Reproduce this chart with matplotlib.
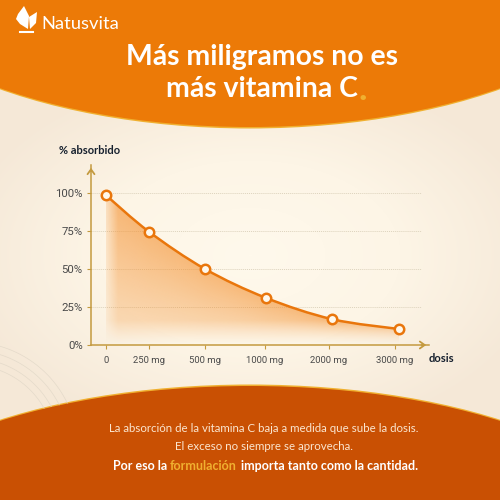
import numpy as np
import matplotlib
matplotlib.use("Agg")
import matplotlib.pyplot as plt
from matplotlib.colors import LinearSegmentedColormap
from matplotlib.patches import Ellipse, PathPatch, Polygon
from matplotlib.path import Path

# data
doses = ["0", "250 mg", "500 mg", "1000 mg", "2000 mg", "3000 mg"]
absorbed = [98.5, 74.5, 50, 31, 17, 10.5]
y_ticks = [0, 25, 50, 75, 100]
# the dose axis is not to scale, so these are places along it
tick_x = [15, 58, 114, 174, 238, 304]
point_x = [15, 58, 114, 175, 241, 308]

ORANGE = "#EC7A07"
DARK_ORANGE = "#C95003"
GOLD = "#F0B030"
AXIS = "#C49A3F"
INK = "#4A4A4A"
NAVY = "#16202E"

plt.rcParams["font.family"] = ["Lato", "DejaVu Sans"]

fig = plt.figure(figsize=(5, 5), dpi=100)

# background, in pixel coordinates
bg = fig.add_axes([0, 0, 1, 1])
bg.set_xlim(0, 500)
bg.set_ylim(500, 0)
bg.axis("off")

yy, xx = np.mgrid[0:500, 0:500]
dist = np.sqrt(((xx - 250) / 300.0) ** 2 + ((yy - 255) / 190.0) ** 2)
cream = LinearSegmentedColormap.from_list("cream", ["#FFF9EC", "#FDF5E6", "#F5E8D7"])
bg.imshow(np.clip(dist, 0, 1), cmap=cream, extent=(0, 500, 500, 0), aspect="auto", zorder=0)

# header and footer bands
bg.add_patch(Ellipse((250, -50), 800, 2 * 178.5, color=GOLD, lw=0, zorder=1))
bg.add_patch(Ellipse((250, -50), 800, 2 * 177, color=ORANGE, lw=0, zorder=2))
bg.add_patch(Ellipse((250, 545), 800, 2 * 160.5, color=GOLD, lw=0, zorder=1))
bg.add_patch(Ellipse((250, 545), 800, 2 * 159, color=DARK_ORANGE, lw=0, zorder=2))

# faint lines in the corner above the footer
for r in [85, 92, 100, 108]:
    t = np.linspace(0, np.pi / 2, 40)
    bg.plot(r * np.cos(t) - 30, 450 - r * np.sin(t), color="#E4DACA", lw=0.5, zorder=1)

# logo
bg.add_patch(Polygon([(18, 14), (24, 6), (29, 16), (28, 29), (20, 24), (16, 19)], color="white", lw=0, zorder=3))
bg.add_patch(Polygon([(29, 17), (37, 12), (36, 23), (30, 29)], color="white", lw=0, zorder=3))
bg.plot([20, 33], [32, 32], color="white", lw=1.5, zorder=3)
bg.text(41, 24, "Natusvita", color="white", fontsize=13.2, va="center", ha="left", zorder=3)

# title
bg.text(262, 57, "Más miligramos no es", color="white", fontsize=20.4, fontweight="bold", ha="center", va="center", zorder=3)
line2 = bg.text(262, 89, "más vitamina C", color="white", fontsize=20.4, fontweight="bold", ha="center", va="center", zorder=3)
box = line2.get_window_extent(fig.canvas.get_renderer())
bg.text(box.x1 + 0.5, 89, ".", color=GOLD, fontsize=26, fontweight="bold", ha="left", va="center", zorder=3)

# footer text
bg.text(264, 429, "La absorción de la vitamina C baja a medida que sube la dosis.", color="#FBE6D0", fontsize=8.3, ha="center", va="center", zorder=3)
bg.text(264, 446, "El exceso no siempre se aprovecha.", color="#FBE6D0", fontsize=8.3, ha="center", va="center", zorder=3)
bg.text(113, 466, "Por eso la", color="white", fontsize=9, fontweight="bold", ha="left", va="center", zorder=3)
bg.text(170, 466, "formulación", color=GOLD, fontsize=9, fontweight="bold", ha="left", va="center", zorder=3)
bg.text(241, 466, "importa tanto como la cantidad.", color="white", fontsize=9, fontweight="bold", ha="left", va="center", zorder=3)

# chart
ax = fig.add_axes([91 / 500, (500 - 345) / 500, 338 / 500, 180 / 500])
ax.patch.set_alpha(0)
for side in ["top", "right"]:
    ax.spines[side].set_visible(False)
for side in ["left", "bottom"]:
    ax.spines[side].set_color(AXIS)
    ax.spines[side].set_linewidth(1.1)

ax.set_xticks(tick_x)
ax.set_xticklabels(doses, family="Roboto")
ax.set_yticks(y_ticks)
ax.set_yticklabels([f"{v}%" for v in y_ticks], family="Roboto")
ax.tick_params(axis="x", colors=AXIS, labelcolor=INK, labelsize=6.8, length=3, width=0.8, pad=5)
ax.tick_params(axis="y", colors=AXIS, labelcolor=INK, labelsize=8.2, length=3, width=0.8, pad=3)

for v in y_ticks[1:]:
    ax.plot([0, 330], [v, v], color="#DDD3BD", lw=0.7, ls=(0, (1, 1)), zorder=1)

# arrow heads on both axes
ax.annotate("", xy=(0, 1), xytext=(0, 0.95), xycoords="axes fraction",
            arrowprops=dict(arrowstyle="->,head_width=0.25,head_length=0.35", color=AXIS, lw=1.3))
ax.annotate("", xy=(1, 0), xytext=(0.97, 0), xycoords="axes fraction",
            arrowprops=dict(arrowstyle="->,head_width=0.25,head_length=0.35", color=AXIS, lw=1.3))

# smooth curve through the points as bezier segments
verts = [(point_x[0], absorbed[0])]
codes = [Path.MOVETO]
n = len(point_x)
for i in range(n - 1):
    x0, y0 = point_x[max(i - 1, 0)], absorbed[max(i - 1, 0)]
    x1, y1 = point_x[i], absorbed[i]
    x2, y2 = point_x[i + 1], absorbed[i + 1]
    x3, y3 = point_x[min(i + 2, n - 1)], absorbed[min(i + 2, n - 1)]
    verts += [(x1 + (x2 - x0) / 6, y1 + (y2 - y0) / 6), (x2 - (x3 - x1) / 6, y2 - (y3 - y1) / 6), (x2, y2)]
    codes += [Path.CURVE4] * 3
curve = Path(verts, codes)

# gradient under the curve, clipped to the area
area = Path(verts + [(point_x[-1], 0), (point_x[0], 0), (point_x[0], absorbed[0])],
            codes + [Path.LINETO, Path.LINETO, Path.LINETO])
gy, gx = np.mgrid[100:0:300j, point_x[0]:point_x[-1]:400j]
under = np.clip(gy / np.interp(gx, point_x, absorbed), 0, 1)
strength = (0.2 + 0.38 * under) * np.clip((gy - 1) / 15, 0, 1)
strength *= np.clip((gx - point_x[0]) / 18 + 0.35, 0, 1)
rgba = np.zeros((300, 400, 4))
rgba[..., :3] = matplotlib.colors.to_rgb("#F38A24")
rgba[..., 3] = strength
img = ax.imshow(rgba, extent=(point_x[0], point_x[-1], 0, 100), aspect="auto", zorder=2, interpolation="bilinear")
clip = PathPatch(area, transform=ax.transData, fc="none", lw=0)
ax.add_patch(clip)
img.set_clip_path(clip)
ax.set_xlim(0, 338)
ax.set_ylim(0, 118.4)

ax.add_patch(PathPatch(curve, fc="none", ec="#E9760C", lw=1.8, zorder=3))
ax.plot(point_x, absorbed, ls="", marker="o", ms=6.8, mfc="#FFF8EC", mec="#E9760C", mew=1.8, zorder=4, clip_on=False)

# axis titles
bg.text(59, 150, "% absorbido", color=NAVY, fontsize=8, fontweight="bold", ha="left", va="center", zorder=3)
bg.text(429, 358, "dosis", color=NAVY, fontsize=8, fontweight="bold", ha="left", va="center", zorder=3)

fig.savefig("out.png", dpi=100)
